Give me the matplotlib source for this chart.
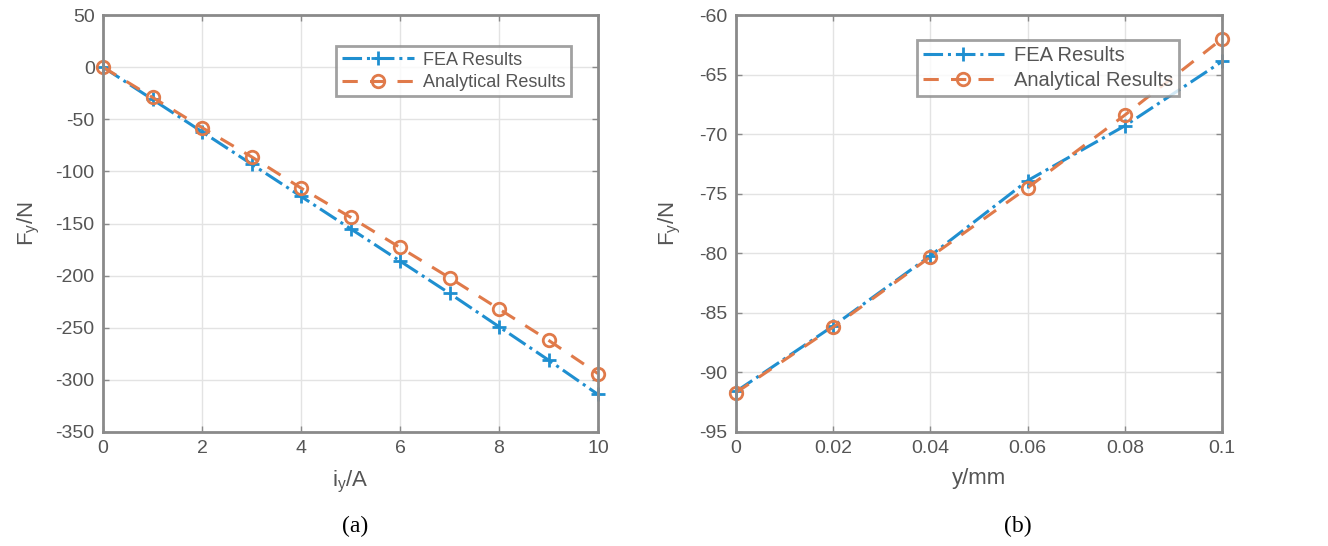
import matplotlib.pyplot as plt
import numpy as np

plt.rcParams['font.family'] = ['Liberation Sans', 'DejaVu Sans']
plt.rcParams['mathtext.fontset'] = 'custom'
plt.rcParams['mathtext.rm'] = 'Liberation Sans'
plt.rcParams['mathtext.it'] = 'Liberation Sans'
plt.rcParams['axes.unicode_minus'] = False

# (a) force vs current
current = [0, 1, 2, 3, 4, 5, 6, 7, 8, 9, 10]
fea_a = [0, -31, -62, -93, -124, -155, -186, -217, -249, -281, -314]
ana_a = [0, -29, -58, -86, -116, -144, -173, -202, -232, -262, -294]

# (b) force vs displacement
disp = [0, 0.02, 0.04, 0.06, 0.08, 0.1]
fea_b = [-91.6, -86.1, -80.2, -73.9, -69.3, -63.9]
ana_b = [-91.7, -86.2, -80.3, -74.5, -68.4, -62.0]

BLUE = '#1f8fd0'
ORANGE = '#e07a4a'
GREY = '#555555'

fig = plt.figure(figsize=(13.28, 5.46), dpi=100)
ax1 = fig.add_axes([0.0776, 0.2088, 0.3727, 0.7637])
ax2 = fig.add_axes([0.5542, 0.2088, 0.3660, 0.7637])


def style(ax):
    ax.grid(True, color='#e3e3e3', linewidth=1.0)
    ax.set_axisbelow(True)
    for sp in ax.spines.values():
        sp.set_color('#8a8a8a')
        sp.set_linewidth(2.0)
    ax.tick_params(direction='in', length=4, width=1, colors='#8a8a8a',
                   labelcolor=GREY, labelsize=14, top=True, right=True, pad=6)


for ax, x, f, a in [(ax1, current, fea_a, ana_a), (ax2, disp, fea_b, ana_b)]:
    ax.plot(x, f, linestyle='-.', color=BLUE, marker='+', markersize=10,
            markeredgewidth=2, linewidth=2.2, label='FEA Results', clip_on=False)
    ax.plot(x, a, linestyle=(0, (5, 4)), color=ORANGE, marker='o', markersize=9,
            markerfacecolor='none', markeredgewidth=2, linewidth=2.2,
            label='Analytical Results', clip_on=False)
    style(ax)


def add_legend(ax, loc, anchor, size):
    leg = ax.legend(loc=loc, bbox_to_anchor=anchor, fontsize=size,
                    frameon=True, fancybox=False, edgecolor='#8a8a8a',
                    handlelength=4.0, labelcolor=GREY, borderpad=0.3,
                    labelspacing=0.3, handletextpad=0.5)
    leg.get_frame().set_linewidth(2)


ax1.set_xlim(0, 10)
ax1.set_ylim(-350, 50)
ax1.set_xticks(np.arange(0, 11, 2))
ax1.set_yticks(np.arange(-350, 51, 50))
ax1.set_xlabel(r'i$_y$/A', fontsize=16, color=GREY, labelpad=8)
ax1.set_ylabel(r'F$_y$/N', fontsize=16, color=GREY, labelpad=10)
add_legend(ax1, 'upper right', (0.9636, 0.947), 13)

ax2.set_xlim(0, 0.1)
ax2.set_ylim(-95, -60)
ax2.set_xticks([0, 0.02, 0.04, 0.06, 0.08, 0.1])
ax2.set_xticklabels(['0', '0.02', '0.04', '0.06', '0.08', '0.1'])
ax2.set_yticks(np.arange(-95, -59, 5))
ax2.set_xlabel('y/mm', fontsize=16, color=GREY, labelpad=8)
ax2.set_ylabel(r'F$_y$/N', fontsize=16, color=GREY, labelpad=12)
add_legend(ax2, 'upper left', (0.352, 0.964), 14.5)

fig.text(0.2673, 0.025, '(a)', fontsize=17, family='Liberation Serif', ha='center')
fig.text(0.7666, 0.025, '(b)', fontsize=17, family='Liberation Serif', ha='center')

fig.savefig('out.png', dpi=100)
